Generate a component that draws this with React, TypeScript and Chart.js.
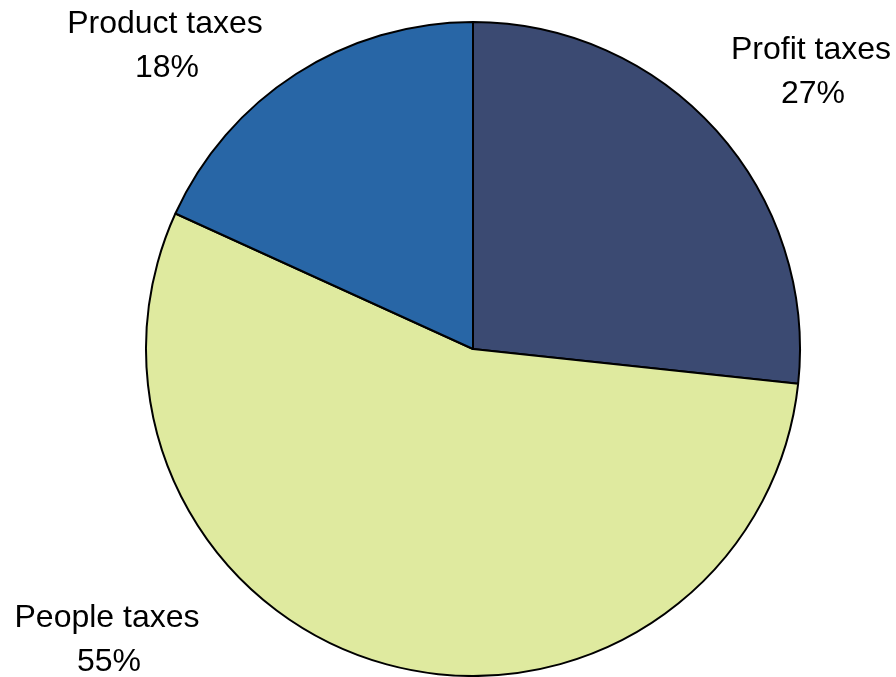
import React, { useEffect, useRef } from "react";
import { Chart, registerables } from "chart.js";

Chart.register(...registerables);

const categories = ["Profit taxes", "People taxes", "Product taxes"];
const shares = [26.7, 55.1, 18.2];
const colors = ["#3B4A72", "#DFEA9F", "#2866A6"];

// label anchor offsets (relative to pie centre) for first text line
const labelOffsets: Record<string, [number, number]> = {
  "Profit taxes": [338, -290],
  "People taxes": [-366, 278],
  "Product taxes": [-308, -316],
};

export default function App() {
  const ref = useRef<HTMLCanvasElement | null>(null);
  useEffect(() => {
    if (!ref.current) return;
    const labelPlugin = {
      id: "outsideLabels",
      afterDraw(chart: any) {
        const ctx = chart.ctx;
        const meta = chart.getDatasetMeta(0);
        const arc = meta.data[0];
        const cx = arc.x;
        const cy = arc.y;
        const total = shares.reduce((a, b) => a + b, 0);
        ctx.save();
        ctx.fillStyle = "#000";
        ctx.font = "32px 'Liberation Sans', Arial, sans-serif";
        ctx.textAlign = "center";
        ctx.textBaseline = "alphabetic";
        categories.forEach((c, i) => {
          const [dx, dy] = labelOffsets[c];
          ctx.fillText(c, cx + dx, cy + dy);
          ctx.fillText(Math.round((shares[i] / total) * 100) + "%", cx + dx + 2, cy + dy + 44);
        });
        ctx.restore();
      },
    };
    const chart = new Chart(ref.current, {
      type: "pie",
      data: {
        labels: categories,
        datasets: [
          {
            data: shares,
            backgroundColor: colors,
            borderColor: "#000",
            borderWidth: 2,
            hoverOffset: 0,
            offset: 0,
          },
        ],
      },
      options: {
        responsive: false,
        animation: false,
        radius: 327,
        layout: { padding: { left: 50, top: 21, right: 0, bottom: 0 } },
        plugins: {
          legend: { display: false },
          tooltip: { enabled: false },
        },
      } as any,
      plugins: [labelPlugin],
    });
    return () => chart.destroy();
  }, []);
  return (
    <div style={{ position: "absolute", left: 0, top: 0, width: 896, height: 677, background: "#fff" }}>
      <canvas ref={ref} width={896} height={677} style={{ width: 896, height: 677 }} />
    </div>
  );
}
